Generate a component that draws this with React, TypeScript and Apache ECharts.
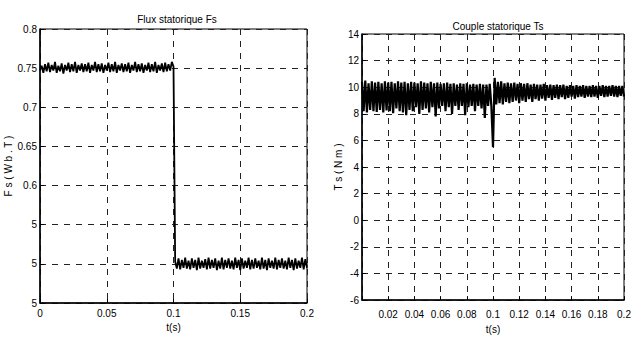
import React, { useEffect, useRef } from "react";
import * as echarts from "echarts";

const sampleStep = 0.00125;

const fluxValues = [
  0.747, 0.753, 0.744, 0.755, 0.746, 0.757, 0.745, 0.754, 0.747, 0.758,
  0.744, 0.753, 0.746, 0.756, 0.743, 0.754, 0.747, 0.757, 0.745, 0.755,
  0.746, 0.758, 0.744, 0.754, 0.747, 0.756, 0.745, 0.755, 0.746, 0.757,
  0.744, 0.754, 0.747, 0.758, 0.745, 0.755, 0.746, 0.756, 0.744, 0.754,
  0.747, 0.757, 0.745, 0.755, 0.746, 0.758, 0.744, 0.754, 0.747, 0.756,
  0.745, 0.755, 0.746, 0.757, 0.744, 0.754, 0.747, 0.758, 0.745, 0.755,
  0.746, 0.756, 0.744, 0.754, 0.747, 0.757, 0.745, 0.755, 0.746, 0.758,
  0.744, 0.754, 0.747, 0.756, 0.745, 0.757, 0.746, 0.755, 0.747, 0.758,
  0.752,
  0.503, 0.494, 0.507, 0.493, 0.505, 0.495, 0.508, 0.494, 0.504, 0.493,
  0.507, 0.495, 0.505, 0.492, 0.508, 0.494, 0.504, 0.495, 0.506, 0.493,
  0.508, 0.494, 0.505, 0.495, 0.507, 0.492, 0.504, 0.494, 0.508, 0.493,
  0.505, 0.495, 0.507, 0.494, 0.504, 0.493, 0.508, 0.495, 0.505, 0.492,
  0.507, 0.494, 0.504, 0.495, 0.508, 0.493, 0.505, 0.494, 0.507, 0.495,
  0.504, 0.493, 0.508, 0.494, 0.505, 0.492, 0.507, 0.495, 0.504, 0.494,
  0.508, 0.493, 0.505, 0.495, 0.507, 0.494, 0.504, 0.493, 0.508, 0.495,
  0.505, 0.492, 0.507, 0.494, 0.504, 0.495, 0.508, 0.493, 0.506, 0.495,
];

const torqueValues = [
  10.4, 8.2, 10.5, 8.1, 10.3, 8.3, 10.45, 8.2, 10.35, 8.15,
  10.4, 8.3, 10.3, 8.1, 10.45, 8.25, 10.35, 8.2, 10.4, 8.05,
  10.3, 8.4, 10.45, 8.2, 10.35, 8.1, 10.4, 7.9, 10.3, 8.3,
  10.4, 8.2, 10.35, 8.5, 10.3, 8.0, 10.45, 8.3, 10.35, 8.4,
  10.3, 8.1, 10.4, 8.5, 10.3, 7.8, 10.35, 8.4, 10.25, 8.6,
  10.3, 8.2, 10.35, 8.5, 10.25, 8.0, 10.3, 8.6, 10.2, 8.3,
  10.3, 8.6, 10.25, 7.9, 10.3, 8.5, 10.2, 8.6, 10.25, 8.2,
  10.2, 8.6, 10.25, 8.4, 10.2, 7.7, 10.2, 8.6, 10.25, 8.6,
  5.5,
  10.7, 8.7, 10.4, 8.8, 10.45, 8.7, 10.3, 8.9, 10.35,
  8.8, 10.3, 8.9, 10.35, 9.0, 10.25, 8.8, 10.3, 9.0, 10.25,
  8.9, 10.3, 9.1, 10.2, 8.9, 10.25, 9.1, 10.2, 9.0, 10.2,
  9.15, 10.25, 9.0, 10.15, 9.2, 10.2, 9.05, 10.15, 9.2, 10.2,
  9.1, 10.15, 9.25, 10.2, 9.1, 10.1, 9.2, 10.15, 9.3, 10.1,
  9.15, 10.15, 9.25, 10.1, 9.3, 10.15, 9.2, 10.1, 9.3, 10.1,
  9.25, 10.15, 9.3, 10.1, 9.2, 10.1, 9.35, 10.15, 9.25, 10.1,
  9.3, 10.1, 9.35, 10.15, 9.3, 10.1, 9.25, 10.1, 9.35, 10.1, 9.3,
];

// y tick labels of the flux plot (the lower ones are clipped in the original)
const fluxTickValues = [0.45, 0.5, 0.55, 0.6, 0.65, 0.7, 0.75, 0.8];
const fluxTickLabels = ["5", "5", "5", "0.6", "0.65", "0.7", "0.75", "0.8"];

const titles = ["Flux statorique Fs", "Couple statorique Ts"];
const yNames = ["F s ( W b . T )", "T s ( N m )"];
const xName = "t(s)";

const FONT = "'Liberation Sans Narrow', 'Liberation Sans', Arial, sans-serif";

export default function App() {
  const ref = useRef<HTMLDivElement>(null);
  useEffect(() => {
    if (!ref.current) return;
    const chart = echarts.init(ref.current, null, { renderer: "svg" });
    const toPairs = (vals: number[]) => vals.map((v, i) => [+(i * sampleStep).toFixed(5), v]);
    const txt = { color: "#000", fontFamily: FONT, fontSize: 10 };
    const dash = { color: "#222", width: 1, type: [6, 6] as number[] };
    const axisLine = { show: true, onZero: false, lineStyle: { color: "#000", width: 1.5 } };
    const axisTick = { show: true, inside: true, length: 4, lineStyle: { color: "#000" } };
    chart.setOption({
      animation: false,
      backgroundColor: "#fff",
      title: [
        { text: titles[0], left: 172, top: 9, textAlign: "center", textStyle: { ...txt, fontWeight: "normal" } },
        { text: titles[1], left: 493, top: 16, textAlign: "center", textStyle: { ...txt, fontWeight: "normal" } },
      ],
      grid: [
        { left: 40, top: 29, right: 333, bottom: 36, show: true, borderColor: "#000", borderWidth: 1 },
        { left: 362, top: 34, right: 16, bottom: 32, show: true, borderColor: "#000", borderWidth: 1 },
      ],
      xAxis: [
        {
          gridIndex: 0, type: "value", min: 0, max: 0.2, interval: 0.05,
          name: xName, nameLocation: "middle", nameGap: 15, nameTextStyle: txt,
          axisLine, axisTick,
          axisLabel: { ...txt, margin: 5, formatter: (v: number) => String(+v.toFixed(2)) },
          splitLine: { show: true, lineStyle: dash },
        },
        {
          gridIndex: 1, type: "value", min: 0, max: 0.2, interval: 0.02,
          name: xName, nameLocation: "middle", nameGap: 21, nameTextStyle: txt,
          axisLine, axisTick,
          axisLabel: { ...txt, margin: 9, formatter: (v: number) => (Math.abs(v) < 1e-9 ? "" : String(+v.toFixed(2))) },
          splitLine: { show: true, lineStyle: dash },
        },
      ],
      yAxis: [
        {
          gridIndex: 0, type: "value", min: 0.45, max: 0.8, interval: 0.05,
          name: yNames[0], nameLocation: "middle", nameGap: 26, nameRotate: 90, nameTextStyle: txt,
          axisLine, axisTick,
          axisLabel: {
            ...txt, margin: 3,
            formatter: (v: number) => {
              const i = fluxTickValues.findIndex((t) => Math.abs(t - v) < 1e-6);
              return i >= 0 ? fluxTickLabels[i] : "";
            },
          },
          splitLine: { show: true, lineStyle: dash },
        },
        {
          gridIndex: 1, type: "value", min: -6, max: 14, interval: 2,
          name: yNames[1], nameLocation: "middle", nameGap: 13, nameRotate: 90, nameTextStyle: txt,
          axisLine, axisTick,
          axisLabel: { ...txt, margin: 3 },
          splitLine: { show: true, lineStyle: dash },
        },
      ],
      series: [
        {
          type: "line", xAxisIndex: 0, yAxisIndex: 0, data: toPairs(fluxValues),
          showSymbol: false, symbol: "none", lineStyle: { color: "#000", width: 1.8 }, z: 5,
        },
        {
          type: "line", xAxisIndex: 1, yAxisIndex: 1, data: toPairs(torqueValues),
          showSymbol: false, symbol: "none", lineStyle: { color: "#000", width: 2.2 }, z: 5,
        },
      ],
    });
    return () => chart.dispose();
  }, []);
  return <div ref={ref} style={{ position: "absolute", left: 0, top: 0, width: 640, height: 339 }} />;
}
